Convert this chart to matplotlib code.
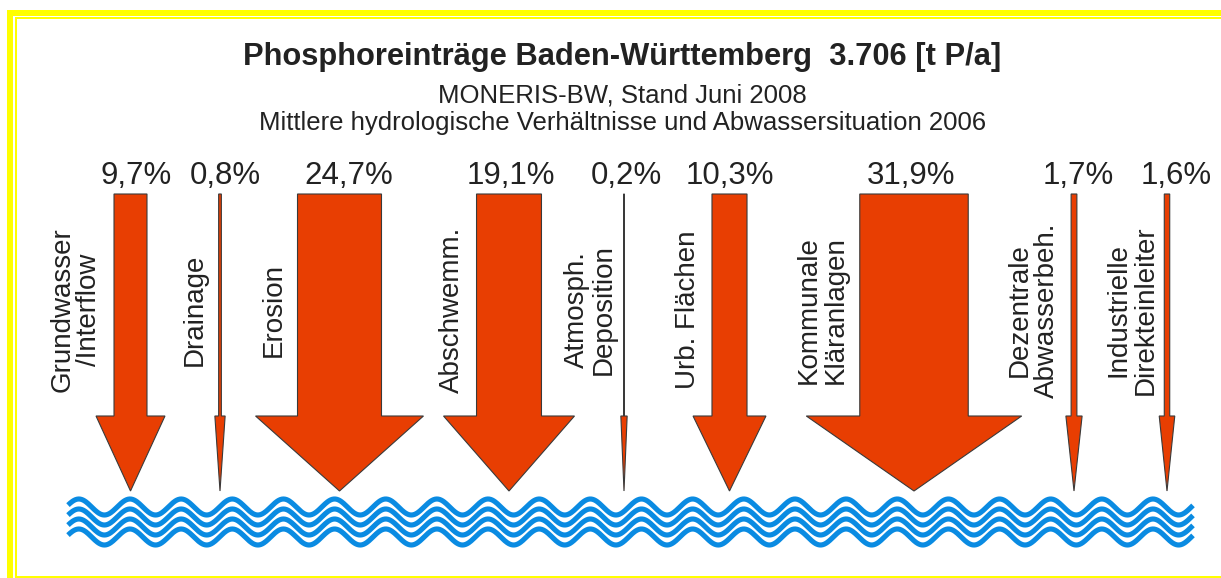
import matplotlib.pyplot as plt
import numpy as np
from matplotlib.patches import Polygon, Rectangle

plt.rcParams['font.family'] = ['Liberation Sans', 'DejaVu Sans']

# Phosphoreinträge nach Eintragspfad (Anteil in %)
pfade = ['Grundwasser\n/Interflow', 'Drainage', 'Erosion', 'Abschwemm.',
         'Atmosph.\nDeposition', 'Urb. Flächen', 'Kommunale\nKläranlagen',
         'Dezentrale\nAbwasserbeh.', 'Industrielle\nDirekteinleiter']
anteile = [9.7, 0.8, 24.7, 19.1, 0.2, 10.3, 31.9, 1.7, 1.6]
gesamt = 3706  # t P/a

# layout (pixel coordinates)
pfeil_x = [130.5, 220, 339.5, 509, 624, 729.5, 914, 1074, 1167]
wert_x = [136, 225, 349, 511, 626, 730, 911, 1078, 1176]
label_x = [76, 195, 274, 452, 590, 688, 822, 1033, 1132]
px_pro_prozent = 3.4
y_oben, y_kopf, y_spitze = 194, 416, 491

W, H = 1221, 578
fig = plt.figure(figsize=(W / 100, H / 100), dpi=100)
ax = fig.add_axes([0, 0, 1, 1])
ax.set_xlim(0, W)
ax.set_ylim(H, 0)
ax.axis('off')

text_col = '#222222'
gelb = '#FFFF00'

# doppelter gelber Rahmen
ax.add_patch(Rectangle((7, 10), W, 5.7, color=gelb, lw=0))
ax.add_patch(Rectangle((7, 10), 6, H, color=gelb, lw=0))
ax.add_patch(Rectangle((15, 17.3), W, 2, color=gelb, lw=0))
ax.add_patch(Rectangle((15, 17.3), 1.7, H, color=gelb, lw=0))
ax.add_patch(Rectangle((15, 576), W, 2.5, color=gelb, lw=0))

# Titel
tausender = f"{gesamt:,}".replace(',', '.')
ax.text(622, 65, f"Phosphoreinträge Baden-Württemberg  {tausender} [t P/a]",
        ha='center', va='baseline', fontsize=22.2, fontweight='bold', color=text_col)
ax.text(622, 102, "MONERIS-BW, Stand Juni 2008", ha='center', va='baseline',
        fontsize=18.5, color=text_col)
ax.text(623, 130, "Mittlere hydrologische Verhältnisse und Abwassersituation 2006",
        ha='center', va='baseline', fontsize=18.5, color=text_col)

# Pfeile, Breite proportional zum Anteil
for cx, p in zip(pfeil_x, anteile):
    w = p * px_pro_prozent
    hw = 0.97 * w + 2.5
    pts = [(cx - w / 2, y_oben), (cx + w / 2, y_oben), (cx + w / 2, y_kopf),
           (cx + hw, y_kopf), (cx, y_spitze), (cx - hw, y_kopf),
           (cx - w / 2, y_kopf)]
    ax.add_patch(Polygon(pts, closed=True, facecolor='#E83E02',
                         edgecolor='#3a3a3a', lw=0.8, joinstyle='miter'))

for x, p in zip(wert_x, anteile):
    ax.text(x, 184, f"{p:.1f}".replace('.', ',') + '%', ha='center',
            va='baseline', fontsize=22.5, color=text_col)

for x, name in zip(label_x, pfade):
    ax.text(x, 310, name, rotation=90, ha='center', va='center',
            multialignment='center', linespacing=1.05, fontsize=20,
            color=text_col)

# Wasserlinien
xs = np.linspace(68, 1193, 1500)
periode = 51.15
for k in range(4):
    ys = 507 + 10 * k - 8 * np.cos(2 * np.pi * (xs - 130) / periode)
    ax.plot(xs, ys, color='#0A8BE2', lw=3.7, solid_capstyle='butt')

fig.savefig('out.png', dpi=100)
